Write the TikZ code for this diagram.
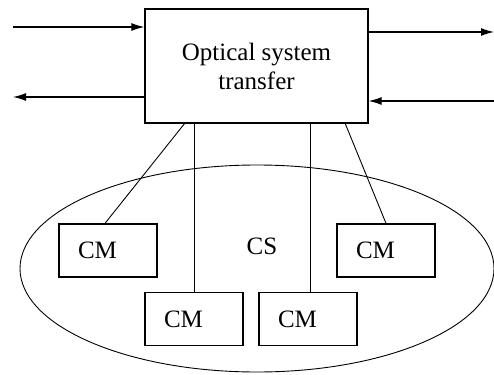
\documentclass[tikz,border=0pt]{standalone}
\usepackage{fontspec}
\setmainfont{Liberation Serif}
\usetikzlibrary{arrows.meta}

\tikzset{
	unit/.style={draw, line width=1.3pt, minimum width=98pt, minimum height=53pt,
		inner xsep=19pt, text width=60pt, align=left},
	flow/.style={line width=1.2pt, -{Latex[length=13pt, width=8pt]}},
	link/.style={line width=0.9pt}
}

\begin{document}
\begin{tikzpicture}[x=1pt, y=-1pt, every node/.style={font=\fontsize{25}{29}\selectfont}]
	\useasboundingbox (0,0) rectangle (494,374);

	% Cluster
	\draw[line width=0.9pt] (257,268.5) ellipse (237 and 103.5);
	\node (cs) at (262,246) {CS};

	% Transfer box
	\node[draw, line width=1.3pt, minimum width=223pt, minimum height=114pt, align=center,
		inner sep=0pt] (ost) at (256.5,66) {Optical system\\transfer};

	% Modules
	\node[unit] (cm1) at (108,250.5) {CM};
	\node[unit] (cm2) at (194,319) {CM};
	\node[unit] (cm3) at (308,319) {CM};
	\node[unit] (cm4) at (386,250.5) {CM};

	% Free ends of the arrows
	\coordinate (inL) at (13,27);
	\coordinate (outL) at (13,97);
	\coordinate (outR) at (494,32);
	\coordinate (inR) at (494,101);

	% Arrows
	\draw[flow] (inL) -- (inL -| ost.west);
	\draw[flow] (outL -| ost.west) -- (outL);
	\draw[flow] (outR -| ost.east) -- (outR);
	\draw[flow] (inR) -- (inR -| ost.east);

	% Links to the modules
	\coordinate (l1) at (185,123);
	\coordinate (l4) at (345,123);
	\draw[link] (l1) -- ([xshift=-3pt]cm1.north);
	\draw[link] (cm2.north |- ost.south) -- (cm2.north);
	\draw[link] ([xshift=2pt]cm3.north |- ost.south) -- ([xshift=2pt]cm3.north);
	\draw[link] (l4) -- (cm4.north);
\end{tikzpicture}
\end{document}
